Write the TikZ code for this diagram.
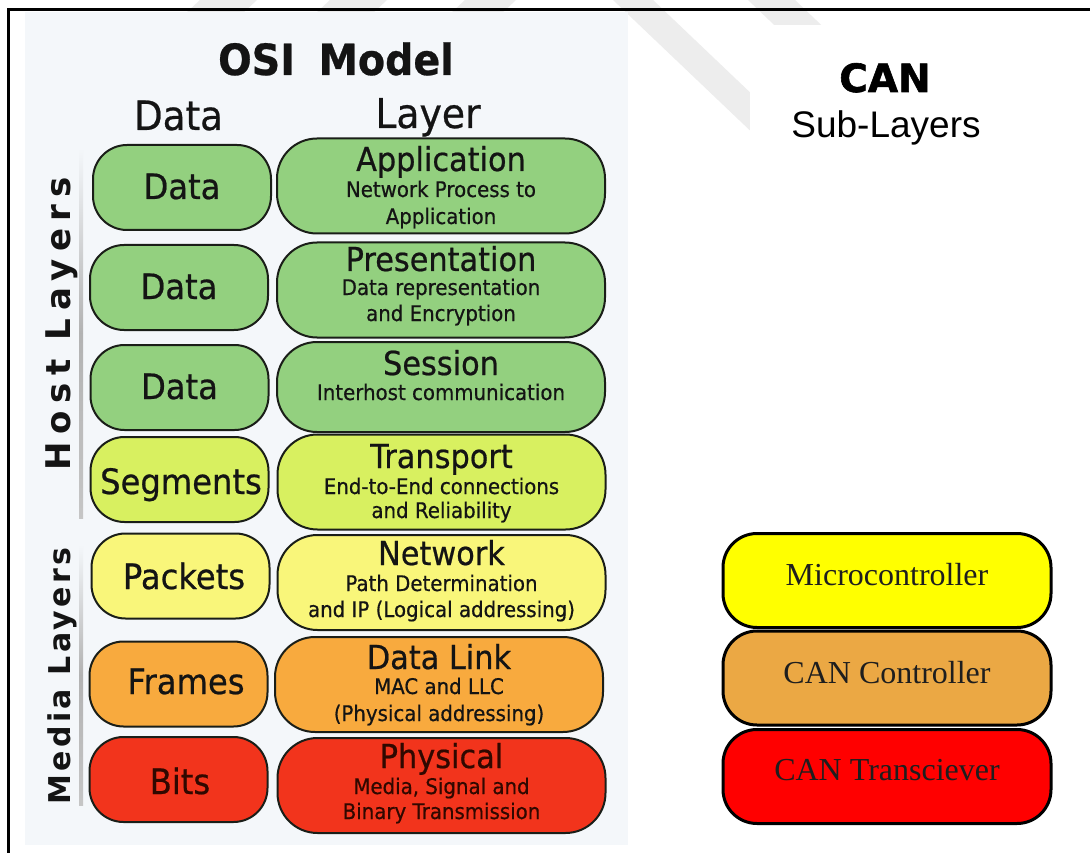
\documentclass[tikz,border=0pt]{standalone}
\usepackage{fontspec}
\setmainfont{Liberation Serif}
\newfontfamily\osifont{DejaVu Sans}[FakeStretch=0.92, FakeBold=0.6]
\newfontfamily\hostfont{DejaVu Sans Bold}[LetterSpace=22]
\newfontfamily\mediafont{DejaVu Sans Bold}[LetterSpace=11]
\newfontfamily\canfont{DejaVu Sans Bold}[FakeBold=1.5]
\newfontfamily\arialfont{Liberation Sans}

\definecolor{panelbg}{RGB}{244,247,250}
\definecolor{wmgray}{RGB}{237,237,237}
\definecolor{osiline}{RGB}{26,30,24}
\definecolor{osiink}{RGB}{20,20,20}
\definecolor{osigreen}{RGB}{147,208,127}
\definecolor{osilime}{RGB}{216,240,96}
\definecolor{osiyellow}{RGB}{249,246,122}
\definecolor{osiorange}{RGB}{248,170,62}
\definecolor{osired}{RGB}{242,52,28}
\definecolor{redink}{RGB}{48,8,0}
\definecolor{canyellow}{RGB}{255,255,0}
\definecolor{canorange}{RGB}{235,168,68}
\definecolor{canred}{RGB}{255,0,0}
\definecolor{canink}{RGB}{30,30,30}

\tikzset{
  lbox/.style={draw=osiline, line width=2pt, rounded corners=34pt,
    minimum width=178pt, minimum height=85pt, inner sep=0pt},
  rbox/.style={draw=osiline, line width=2pt, rounded corners=40pt,
    minimum width=328pt, minimum height=95pt, inner sep=0pt},
  cbox/.style={draw=black, line width=3pt, rounded corners=34pt,
    minimum width=328pt, minimum height=94pt, inner sep=0pt},
  txt/.style={anchor=base, inner sep=0pt, text=osiink},
  lbl/.style={txt, font=\osifont\fontsize{35}{40}\selectfont},
  ttl/.style={txt, font=\osifont\fontsize{33}{38}\selectfont},
  sub/.style={txt, font=\osifont\fontsize{21.5}{25}\selectfont},
  cantxt/.style={anchor=base, inner sep=0pt, text=canink,
    font=\fontsize{32}{36}\selectfont},
}

\begin{document}
\begin{tikzpicture}[x=1pt,y=-1pt]
\useasboundingbox (0,0) rectangle (1090,853);
\fill[white] (0,0) rectangle (1090,853);

% faint watermark bands behind everything
\fill[wmgray] (200,0) -- (257,0) -- (241,15) -- (184,15) -- cycle;
\fill[wmgray] (330,0) -- (387,0) -- (371,15) -- (314,15) -- cycle;
\fill[wmgray] (465,0) -- (516,0) -- (500,15) -- (449,15) -- cycle;
\fill[wmgray] (613,0) -- (653,0) -- (863,200) -- (823,200) -- cycle;
\fill[wmgray] (748,0) -- (795,0) -- (1005,200) -- (958,200) -- cycle;

% OSI panel and the plain area on the right
\fill[panelbg] (25,12) rectangle (628,845);
\fill[white] (750,25) rectangle (1090,853);

% frame
\draw[line width=2.5pt] (8.5,853) -- (8.5,9.5) -- (1090,9.5);

% headings
\node[txt, font=\osifont\bfseries\fontsize{43}{48}\selectfont] (osititle) at (336,75) {OSI\hspace{0.55em}Model};
\node[txt, font=\osifont\fontsize{40.5}{46}\selectfont] (hdata) at (178.5,130) {Data};
\node[txt, font=\osifont\fontsize{41}{46}\selectfont] (hlayer) at (428,128) {Layer};

% side groupings
\shade[top color=panelbg, bottom color=gray!45, middle color=gray!60]
  (79,148) rectangle (83,518);
\shade[top color=panelbg, bottom color=gray!45, middle color=gray!60]
  (79,545) rectangle (83,805);
\node[txt, rotate=90, font=\hostfont\fontsize{34}{40}\selectfont] (host) at (70,323.5) {Host Layers};
\node[txt, rotate=90, font=\mediafont\fontsize{30}{36}\selectfont] (media) at (70,676) {Media Layers};

% application
\node[lbox, fill=osigreen] (d7) at (182,187.5) {};
\node[rbox, fill=osigreen] (l7) at (441,186) {};
\node[lbl] (d7t) at (182,199) {Data};
\node[ttl] (l7t) at (441,171) {Application};
\node[sub] (l7a) at (441,197) {Network Process to};
\node[sub] (l7b) at (441,224) {Application};

% presentation
\node[lbox, fill=osigreen] (d6) at (179,287.5) {};
\node[rbox, fill=osigreen] (l6) at (441,290) {};
\node[lbl] (d6t) at (179,299) {Data};
\node[ttl] (l6t) at (441,271) {Presentation};
\node[sub] (l6a) at (441,295) {Data representation};
\node[sub] (l6b) at (441,321) {and Encryption};

% session
\node[lbox, fill=osigreen] (d5) at (179.5,387.5) {};
\node[rbox, fill=osigreen, minimum height=90pt] (l5) at (441,387) {};
\node[lbl] (d5t) at (179.5,399) {Data};
\node[ttl] (l5t) at (441,375) {Session};
\node[sub] (l5a) at (441,400) {Interhost communication};

% transport
\node[lbox, fill=osilime] (d4) at (179.5,479.5) {};
\node[rbox, fill=osilime] (l4) at (441.5,482) {};
\node[lbl] (d4t) at (181,494) {Segments};
\node[ttl] (l4t) at (441.5,468) {Transport};
\node[sub] (l4a) at (441.5,494) {End-to-End connections};
\node[sub] (l4b) at (441.5,518) {and Reliability};

% network
\node[lbox, fill=osiyellow] (d3) at (180.5,576) {};
\node[rbox, fill=osiyellow] (l3) at (441.5,582.5) {};
\node[lbl] (d3t) at (184,589) {Packets};
\node[ttl] (l3t) at (441.5,565) {Network};
\node[sub] (l3a) at (441.5,591) {Path Determination};
\node[sub] (l3b) at (441.5,617) {and IP (Logical addressing)};

% data link
\node[lbox, fill=osiorange] (d2) at (178.5,684) {};
\node[rbox, fill=osiorange] (l2) at (439,684.5) {};
\node[lbl] (d2t) at (186,694) {Frames};
\node[ttl] (l2t) at (439,669) {Data Link};
\node[sub] (l2a) at (439,694) {MAC and LLC};
\node[sub] (l2b) at (439,721) {(Physical addressing)};

% physical
\node[lbox, fill=osired] (d1) at (178.5,779.5) {};
\node[rbox, fill=osired] (l1) at (441.5,785.5) {};
\node[lbl, text=redink] (d1t) at (180,794) {Bits};
\node[ttl, text=redink] (l1t) at (441.5,768) {Physical};
\node[sub, text=redink] (l1a) at (441.5,794) {Media, Signal and};
\node[sub, text=redink] (l1b) at (441.5,819) {Binary Transmission};

% CAN sub-layers
\node[anchor=base, inner sep=0pt, font=\canfont\fontsize{39}{44}\selectfont] (cantitle) at (885,92) {CAN};
\node[anchor=base, inner sep=0pt, font=\arialfont\fontsize{37}{42}\selectfont] (cansub) at (886,138) {Sub-Layers};

\node[cbox, fill=canyellow] (mcu) at (887,580.5) {};
\node[cbox, fill=canorange] (ctrl) at (887,678) {};
\node[cbox, fill=canred] (xcvr) at (887,776.5) {};
\node[cantxt] (mcut) at (887,585) {Microcontroller};
\node[cantxt] (ctrlt) at (887,683) {CAN Controller};
\node[cantxt] (xcvrt) at (887,780) {CAN Transciever};
\end{tikzpicture}
\end{document}
